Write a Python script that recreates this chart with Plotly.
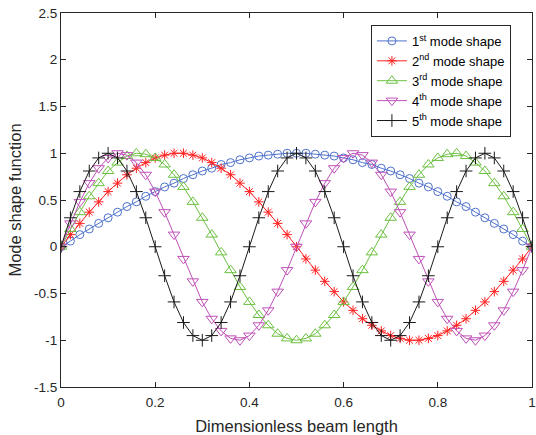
import plotly.graph_objects as go

x = [0.00, 0.02, 0.04, 0.06, 0.08, 0.10, 0.12, 0.14, 0.16, 0.18,
     0.20, 0.22, 0.24, 0.26, 0.28, 0.30, 0.32, 0.34, 0.36, 0.38,
     0.40, 0.42, 0.44, 0.46, 0.48, 0.50, 0.52, 0.54, 0.56, 0.58,
     0.60, 0.62, 0.64, 0.66, 0.68, 0.70, 0.72, 0.74, 0.76, 0.78,
     0.80, 0.82, 0.84, 0.86, 0.88, 0.90, 0.92, 0.94, 0.96, 0.98, 1.00]

mode1 = [0, .06, .13, .19, .25, .31, .37, .43, .48, .54,
         .59, .64, .68, .73, .77, .81, .84, .88, .90, .93,
         .95, .97, .98, .99, 1.0, 1.0, 1.0, .99, .98, .97,
         .95, .93, .90, .88, .84, .81, .77, .73, .68, .64,
         .59, .54, .48, .43, .37, .31, .25, .19, .13, .06, 0]

mode2 = [0, .13, .25, .37, .48, .59, .68, .77, .84, .90,
         .95, .98, 1.0, 1.0, .98, .95, .90, .84, .77, .68,
         .59, .48, .37, .25, .13, 0, -.13, -.25, -.37, -.48,
         -.59, -.68, -.77, -.84, -.90, -.95, -.98, -1.0, -1.0, -.98,
         -.95, -.90, -.84, -.77, -.68, -.59, -.48, -.37, -.25, -.13, 0]

mode3 = [0, .19, .37, .54, .68, .81, .90, .97, 1.0, .99,
         .95, .88, .77, .64, .48, .31, .13, -.06, -.25, -.43,
         -.59, -.73, -.84, -.93, -.98, -1.0, -.98, -.93, -.84, -.73,
         -.59, -.43, -.25, -.06, .13, .31, .48, .64, .77, .88,
         .95, .99, 1.0, .97, .90, .81, .68, .54, .37, .19, 0]

mode4 = [0, .25, .48, .68, .84, .95, 1.0, .98, .90, .77,
         .59, .37, .13, -.13, -.37, -.59, -.77, -.90, -.98, -1.0,
         -.95, -.84, -.68, -.48, -.25, 0, .25, .48, .68, .84,
         .95, 1.0, .98, .90, .77, .59, .37, .13, -.13, -.37,
         -.59, -.77, -.90, -.98, -1.0, -.95, -.84, -.68, -.48, -.25, 0]

mode5 = [0, .31, .59, .81, .95, 1.0, .95, .81, .59, .31,
         0, -.31, -.59, -.81, -.95, -1.0, -.95, -.81, -.59, -.31,
         0, .31, .59, .81, .95, 1.0, .95, .81, .59, .31,
         0, -.31, -.59, -.81, -.95, -1.0, -.95, -.81, -.59, -.31,
         0, .31, .59, .81, .95, 1.0, .95, .81, .59, .31, 0]

names = ["1<sup>st</sup> mode shape", "2<sup>nd</sup> mode shape",
         "3<sup>rd</sup> mode shape", "4<sup>th</sup> mode shape",
         "5<sup>th</sup> mode shape"]

x_ticks = [0, 0.2, 0.4, 0.6, 0.8, 1]
y_ticks = [-1.5, -1, -0.5, 0, 0.5, 1, 1.5, 2, 2.5]

series = [mode1, mode2, mode3, mode4, mode5]
colors = ["#4F72CC", "#FF2222", "#6CC040", "#BF50B8", "#1A1A1A"]
symbols = ["circle-open", "asterisk-open", "triangle-up-open", "triangle-down-open", "cross-thin-open"]
sizes = [8, 8, 10, 10, 9]

fig = go.Figure()
for ys, nm, c, s, sz in zip(series, names, colors, symbols, sizes):
    fig.add_trace(go.Scatter(
        x=x, y=ys, name=nm, mode="lines+markers",
        line=dict(color=c, width=1),
        marker=dict(symbol=s, size=sz, color=c, line=dict(color=c, width=1)),
    ))

axis_common = dict(
    showline=True, linecolor="#262626", linewidth=1, mirror="ticks",
    ticks="inside", ticklen=5, tickcolor="#262626", showgrid=False, zeroline=False,
    automargin=False,
    tickfont=dict(family="Liberation Sans, Arial", size=13.5, color="#262626"),
)

fig.update_layout(
    width=536, height=435,
    margin=dict(l=61, r=4, t=13, b=48),
    paper_bgcolor="white", plot_bgcolor="white",
    font=dict(family="Liberation Sans, Arial", size=13, color="#262626"),
    xaxis=dict(range=[0, 1], tickvals=x_ticks, ticktext=[str(v) for v in x_ticks],
               ticklabelstandoff=3,
               title=dict(text="Dimensionless beam length", font=dict(size=16.5), standoff=14),
               **axis_common),
    yaxis=dict(range=[-1.5, 2.5], tickvals=y_ticks, ticktext=[str(v) for v in y_ticks],
               title=dict(text="Mode shape function", font=dict(size=16.5), standoff=8),
               **axis_common),
    legend=dict(x=0.658, y=0.968, xanchor="left", yanchor="top",
                bgcolor="white", bordercolor="#262626", borderwidth=1,
                font=dict(size=13, color="#000000"), tracegroupgap=0),
    showlegend=True,
)

fig.write_html("out.html", config={"displayModeBar": False},
               post_script="document.body.style.margin='0';document.body.style.overflow='hidden';")
